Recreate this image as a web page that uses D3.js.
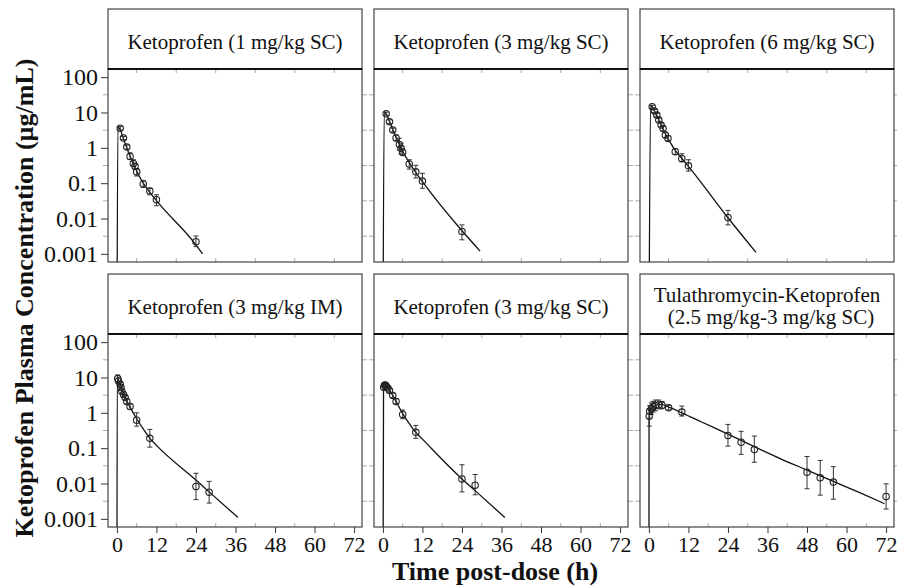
<!DOCTYPE html>
<meta charset="utf-8">
<title>Ketoprofen plasma concentration</title>
<script src="https://d3js.org/d3.v7.min.js"></script>
<style>
  body { margin: 0; background: #fff; }
  text { font-family: "Liberation Serif", "Times New Roman", serif; fill: #111; }
</style>
<body>
<svg id="chart" width="897" height="587"></svg>
</body>
<script>
// panel titles (two-line title split by "\n")
const titles = [
  "Ketoprofen (1 mg/kg SC)",
  "Ketoprofen (3 mg/kg SC)",
  "Ketoprofen (6 mg/kg SC)",
  "Ketoprofen (3 mg/kg IM)",
  "Ketoprofen (3 mg/kg SC)",
  "Tulathromycin-Ketoprofen\n(2.5 mg/kg-3 mg/kg SC)"
]

const xTicks = [0, 12, 24, 36, 48, 60, 72]
const xMinor = [6, 18, 30, 42, 54, 66]
const yTicks = [100, 10, 1, 0.1, 0.01, 0.001]
const yTickLabels = ["100", "10", "1", "0.1", "0.01", "0.001"]
const yMinor = [31.6, 3.16, 0.316, 0.0316, 0.00316]

// observed: [time h, mean, lower, upper]
const obs1 = [[1, 3.6, 3.2, 4.0], [2, 1.9, 1.7, 2.1], [3, 1.05, 0.92, 1.2], [4, 0.57, 0.47, 0.72],
  [5, 0.36, 0.30, 0.46], [5.5, 0.30, 0.25, 0.36], [6, 0.21, 0.16, 0.26], [8, 0.095, 0.076, 0.12],
  [10, 0.06, 0.047, 0.072], [12, 0.034, 0.023, 0.047], [24, 0.0022, 0.0016, 0.0032]]
const obs2 = [[1, 9.2, 8.4, 10.2], [2, 5.5, 4.9, 6.2], [3, 3.2, 2.8, 3.6], [4, 1.9, 1.6, 2.3],
  [5, 1.25, 0.87, 1.86], [5.5, 0.97, 0.66, 1.35], [6, 0.75, 0.6, 0.95], [8, 0.35, 0.25, 0.46],
  [10, 0.21, 0.14, 0.32], [12, 0.115, 0.072, 0.19], [24, 0.0043, 0.0025, 0.0066]]
const obs3 = [[1, 14.5, 13, 16], [1.7, 11, 10, 12.2], [2.4, 8.5, 7.6, 9.5], [3, 6.1, 5.4, 6.9],
  [3.7, 4.4, 3.9, 5.0], [4.3, 3.5, 3.0, 4.1], [5, 2.3, 1.9, 2.7], [5.8, 1.85, 1.6, 2.2],
  [8, 0.78, 0.65, 0.95], [10, 0.50, 0.40, 0.68], [12, 0.31, 0.22, 0.46], [24, 0.0107, 0.0066, 0.017]]
const obs4 = [[0.25, 9.3, 7.3, 11.8], [0.5, 8.0, 6.8, 9.5], [1, 6.4, 5.5, 7.4], [1.25, 5.2, 4.5, 6.0],
  [1.5, 4.1, 3.5, 4.8], [2, 3.3, 2.8, 3.9], [2.5, 2.7, 2.3, 3.2], [3, 2.1, 1.8, 2.5],
  [4, 1.5, 1.25, 1.8], [6, 0.62, 0.42, 1.0], [10, 0.19, 0.107, 0.34],
  [24, 0.0083, 0.0035, 0.0195], [28, 0.0057, 0.0028, 0.0115]]
const obs5 = [[0.25, 5.3, 4.6, 6.1], [0.5, 6.0, 5.2, 6.9], [0.75, 6.1, 5.3, 7.0], [1, 5.7, 5.0, 6.5],
  [1.5, 5.0, 4.4, 5.7], [2, 4.3, 3.8, 4.9], [3, 3.1, 2.7, 3.6], [4, 2.1, 1.8, 2.5],
  [6, 0.9, 0.68, 1.2], [10, 0.28, 0.19, 0.44], [24, 0.0135, 0.0058, 0.034], [28, 0.009, 0.0048, 0.018]]
const obs6 = [[0.083, 0.8, 0.42, 1.3], [0.25, 1.1, 0.7, 1.6], [0.75, 1.3, 0.9, 1.9], [1.25, 1.5, 1.05, 2.1],
  [2, 1.6, 1.15, 2.3], [3, 1.7, 1.3, 2.3], [4, 1.65, 1.3, 2.1], [6, 1.4, 1.2, 1.65],
  [10, 1.05, 0.81, 1.55], [24, 0.23, 0.114, 0.47], [28, 0.147, 0.067, 0.30], [32, 0.091, 0.040, 0.22],
  [48, 0.021, 0.0071, 0.058], [52, 0.0145, 0.0047, 0.045], [56, 0.011, 0.0036, 0.030], [72, 0.0043, 0.0019, 0.0098]]

// fitted model curves: [time h, concentration]; zero at t = 0 runs off the bottom of the log axis
const fit1 = [[0, 1e-9], [0.3, 3.8], [1, 3.3], [2, 1.8], [3, 1.0], [4, 0.58], [6, 0.22], [8, 0.10],
  [10, 0.055], [12, 0.032], [24, 0.0018], [26, 0.001]]
const fit2 = [[0, 1e-9], [0.4, 10.5], [1, 9.0], [2, 5.6], [3, 3.3], [4, 2.0], [6, 0.8], [8, 0.38],
  [10, 0.2], [12, 0.11], [24, 0.0045], [29.5, 0.0012]]
const fit3 = [[0, 1e-9], [0.5, 16], [1, 14.5], [2, 9.5], [3, 6.2], [4, 3.9], [6, 1.7], [8, 0.85],
  [10, 0.5], [12, 0.3], [24, 0.0105], [32.5, 0.0011]]
const fit4 = [[0, 1e-9], [0.1, 10], [0.5, 8.2], [1, 6.5], [2, 3.6], [3, 2.2], [4, 1.45], [6, 0.68],
  [8, 0.35], [10, 0.19], [12, 0.12], [24, 0.0125], [28, 0.0058], [36.7, 0.0011]]
const fit5 = [[0, 1e-9], [0.2, 5.8], [0.6, 6.3], [1, 5.9], [2, 4.4], [3, 3.1], [4, 2.1], [6, 0.95],
  [8, 0.5], [10, 0.28], [12, 0.18], [24, 0.0135], [28, 0.0063], [37, 0.0011]]
const fit6 = [[0, 1e-9], [0.05, 0.6], [0.25, 1.0], [0.5, 1.2], [1, 1.4], [2, 1.6], [3, 1.7], [4, 1.7],
  [6, 1.45], [10, 1.0], [16, 0.55], [24, 0.25], [32, 0.11], [40, 0.05], [48, 0.024], [56, 0.0115],
  [64, 0.0055], [71.5, 0.0027]]

const observed = [obs1, obs2, obs3, obs4, obs5, obs6]
const fitted = [fit1, fit2, fit3, fit4, fit5, fit6]

let svg = d3.select("#chart")

let colX = [108, 374, 640]
let rowY = [9, 274]
let panelW = 254
let stripH = 60
let plotH = 193

let x = d3.scaleLinear().domain([-2.7, 74.4]).range([0, panelW])
let y = d3.scaleLog().domain([Math.pow(10, -3.23), Math.pow(10, 2.23)]).range([plotH, 0])

let line = d3.line()
    .x(d => x(d[0]))
    .y(d => y(Math.max(d[1], 1e-6)))
    .curve(d3.curveMonotoneX)

titles.forEach((title, i) => {
    let col = i % 3
    let row = Math.floor(i / 3)
    let g = svg.append("g")
        .attr("transform", "translate(" + colX[col] + "," + rowY[row] + ")")

    // strip
    g.append("rect")
        .attr("width", panelW).attr("height", stripH)
        .attr("fill", "#fff").attr("stroke", "#444").attr("stroke-width", 1.2)

    let lines = title.split("\n")
    lines.forEach((t, k) => {
        g.append("text")
            .attr("x", panelW / 2 + (k > 0 ? 4 : 0))
            .attr("y", lines.length == 1 ? 40 : 28 + k * 22)
            .attr("text-anchor", "middle")
            .style("font-size", "21px")
            .text(t)
    })

    let p = g.append("g").attr("transform", "translate(0," + stripH + ")")

    p.append("clipPath").attr("id", "clip" + i)
        .append("rect").attr("width", panelW).attr("height", plotH)

    // minor grey ticks on all sides
    let minor = p.append("g").attr("stroke", "#aaa").attr("stroke-width", 1)
    yMinor.forEach(v => {
        minor.append("line").attr("x1", -5).attr("x2", 0).attr("y1", y(v)).attr("y2", y(v))
        minor.append("line").attr("x1", panelW).attr("x2", panelW + 5).attr("y1", y(v)).attr("y2", y(v))
    })
    xMinor.forEach(v => {
        minor.append("line").attr("x1", x(v)).attr("x2", x(v)).attr("y1", 0).attr("y2", 4)
        minor.append("line").attr("x1", x(v)).attr("x2", x(v)).attr("y1", plotH - 4).attr("y2", plotH)
    })

    // left axis with labels
    if (col == 0) {
        p.append("g")
            .call(d3.axisLeft(y).tickValues(yTicks).tickSize(7).tickPadding(3)
                .tickFormat((d, k) => yTickLabels[k]))
            .call(a => a.select(".domain").remove())
            .call(a => a.selectAll("line").attr("stroke", "#333"))
            .call(a => a.selectAll("text").style("font-size", "24px")
                .style("font-family", "'Liberation Serif', serif").attr("fill", "#111"))
    }
    // bottom axis with labels
    if (row == 1) {
        p.append("g")
            .attr("transform", "translate(0," + plotH + ")")
            .call(d3.axisBottom(x).tickValues(xTicks).tickSize(6).tickPadding(3))
            .call(a => a.select(".domain").remove())
            .call(a => a.selectAll("line").attr("stroke", "#333"))
            .call(a => a.selectAll("text").style("font-size", "22px")
                .style("font-family", "'Liberation Serif', serif").attr("fill", "#111"))
    }

    // fitted curve
    p.append("path")
        .datum(fitted[i])
        .attr("clip-path", "url(#clip" + i + ")")
        .attr("d", line)
        .attr("fill", "none")
        .attr("stroke", "#111")
        .attr("stroke-width", 1.3)

    // error bars
    let eb = p.append("g").attr("stroke", "#333").attr("stroke-width", 1)
    observed[i].forEach(d => {
        eb.append("line").attr("x1", x(d[0])).attr("x2", x(d[0])).attr("y1", y(d[2])).attr("y2", y(d[3]))
        eb.append("line").attr("x1", x(d[0]) - 2.5).attr("x2", x(d[0]) + 2.5).attr("y1", y(d[2])).attr("y2", y(d[2]))
        eb.append("line").attr("x1", x(d[0]) - 2.5).attr("x2", x(d[0]) + 2.5).attr("y1", y(d[3])).attr("y2", y(d[3]))
    })

    // observed means
    p.selectAll("circle")
        .data(observed[i])
        .enter()
        .append("circle")
        .attr("cx", d => x(d[0]))
        .attr("cy", d => y(d[1]))
        .attr("r", 3.2)
        .attr("fill", "none")
        .attr("stroke", "#222")
        .attr("stroke-width", 1.1)

    // panel border
    p.append("rect")
        .attr("width", panelW).attr("height", plotH)
        .attr("fill", "none").attr("stroke", "#444").attr("stroke-width", 1.2)
    p.append("line")
        .attr("x1", 0).attr("x2", panelW).attr("y1", 0).attr("y2", 0)
        .attr("stroke", "#111").attr("stroke-width", 2)
})

svg.append("text")
    .attr("transform", "translate(33,298) rotate(-90)")
    .attr("text-anchor", "middle")
    .style("font-size", "26px")
    .style("font-weight", "bold")
    .text("Ketoprofen Plasma Concentration (\u00b5g/mL)")

svg.append("text")
    .attr("x", 495)
    .attr("y", 580)
    .attr("text-anchor", "middle")
    .style("font-size", "26px")
    .style("font-weight", "bold")
    .text("Time post-dose (h)")
</script>
